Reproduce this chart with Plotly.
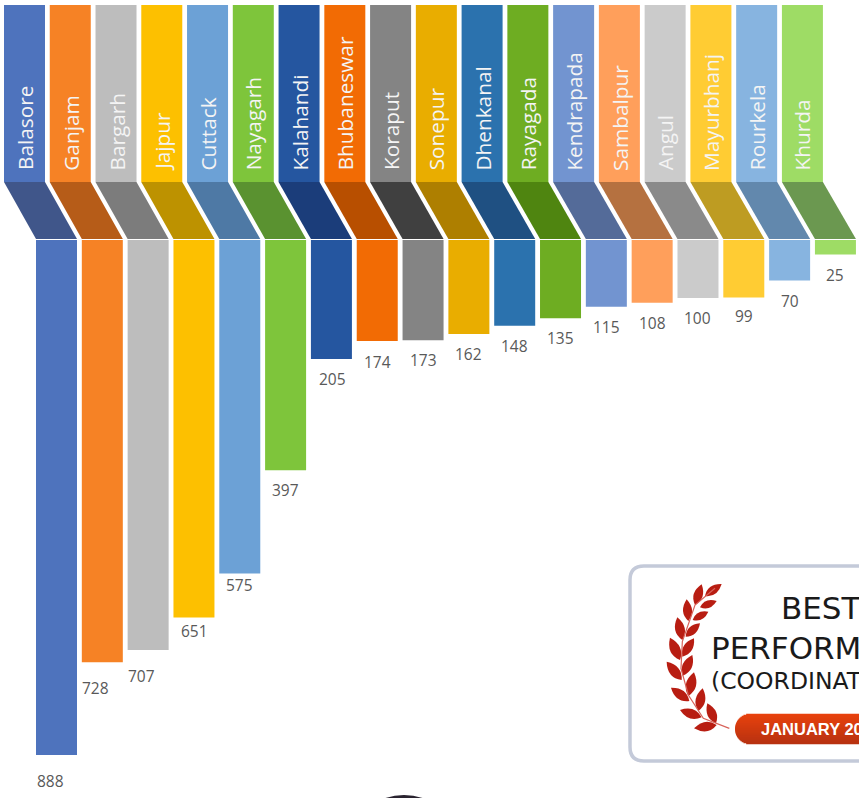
import math
import plotly.graph_objects as go

# ---- data ----
districts = ["Balasore", "Ganjam", "Bargarh", "Jajpur", "Cuttack", "Nayagarh", "Kalahandi",
             "Bhubaneswar", "Koraput", "Sonepur", "Dhenkanal", "Rayagada", "Kendrapada",
             "Sambalpur", "Angul", "Mayurbhanj", "Rourkela", "Khurda"]
values = [888, 728, 707, 651, 575, 397, 205, 174, 173, 162, 148, 135, 115, 108, 100, 99, 70, 25]

# ---- styles ----
bar_colors = ["#4E73BD", "#F68225", "#BDBDBD", "#FDC000", "#6CA1D6", "#7EC53B", "#2556A0", "#F26B04", "#848484",
              "#E9AD00", "#2B72AE", "#6EAD22", "#7294D0", "#FF9F5B", "#CBCBCB", "#FFCC33", "#87B4E0", "#9EDC65"]
band_colors = ["#40568A", "#B65C18", "#7C7C7C", "#BD9200", "#4E79A5", "#5A9230", "#1B3D7A", "#B84F00", "#404040",
               "#AE7F00", "#1F5082", "#4F8510", "#546B99", "#B57140", "#8A8A8A", "#BE9C22", "#6288AD", "#6B9850"]
label_gap = [26, 26, 26, 13, 12, 20, 20, 21, 20, 20, 20, 20, 20, 20, 20, 19, 20, 20]
label_dx = [-6, -7, -7, 1, 0, 0, 1, 0, 0, 0, 0, 0, 0, 0, 0, 0, 0, 0]

W, H = 859, 798
STEP = 45.82
HEAD_STEP = 45.76 / STEP
X0 = 56.5
Y0 = 240.0
SCALE = 515 / 888
BAR_W = 41 / STEP
HEAD_SHIFT = -32 / STEP
HEAD_TOP = (5 - Y0) / SCALE
HEAD_BOTTOM = (182 - Y0) / SCALE
BAND_BOTTOM = (239 - Y0) / SCALE
LABEL_Y = (172.5 - Y0) / SCALE

idx = list(range(len(districts)))
head_x = [i * HEAD_STEP + HEAD_SHIFT for i in idx]
fig = go.Figure()
fig.add_trace(go.Bar(x=idx, y=values, base=0, width=BAR_W, marker=dict(color=bar_colors, line_width=0),
                     hoverinfo="skip", showlegend=False))
fig.add_trace(go.Bar(x=head_x, y=[HEAD_BOTTOM - HEAD_TOP] * len(idx), base=HEAD_TOP,
                     width=BAR_W, marker=dict(color=bar_colors, line_width=0), hoverinfo="skip", showlegend=False))

shapes = []
ann = []
for i, name in enumerate(districts):
    l, r = i - BAR_W / 2, i + BAR_W / 2
    hl, hr = head_x[i] - BAR_W / 2, head_x[i] + BAR_W / 2
    shapes.append(dict(type="path", xref="x", yref="y", layer="above", fillcolor=band_colors[i], line_width=0,
                       path=f"M{hl},{HEAD_BOTTOM} L{hr},{HEAD_BOTTOM} "
                            f"L{r},{BAND_BOTTOM} L{l},{BAND_BOTTOM} Z"))
    ann.append(dict(x=head_x[i], y=LABEL_Y, xref="x", yref="y", text=name, showarrow=False, textangle=-90,
                    yanchor="bottom", xanchor="center", font=dict(family="Open Sans", size=20.8, color="#F4F4F4")))
    ann.append(dict(x=i, y=values[i], xref="x", yref="y", text=str(values[i]), showarrow=False,
                    yanchor="middle", xanchor="center", yshift=-label_gap[i], xshift=label_dx[i],
                    font=dict(family="Open Sans", size=15.5, color="#595959")))


def px(x, y):
    return f"{x / W:.5f},{1 - y / H:.5f}"


def zx(x, y):
    return 620 + x / 3, 555 + y / 3


def paper_shape(path, **kw):
    shapes.append(dict(type="path", xref="paper", yref="paper", path=path, layer="above", **kw))


# badge frame
r = 14
bl, bt, br, bb = 630, 566, 880, 761
paper_shape(f"M{px(bl + r, bt)} L{px(br, bt)} L{px(br, bb)} L{px(bl + r, bb)} "
            f"Q{px(bl, bb)} {px(bl, bb - r)} L{px(bl, bt + r)} Q{px(bl, bt)} {px(bl + r, bt)} Z",
            fillcolor="#FFFFFF", line=dict(color="#C4CAD9", width=3.5))

# laurel
leaves = [((225, 150), (245, 88)), ((205, 198), (200, 133)), ((187, 255), (172, 187)), ((180, 315), (150, 248)),
          ((185, 375), (140, 320)), ((208, 438), (153, 398)), ((245, 487), (180, 465)), ((290, 510), (222, 520)),
          ((255, 123), (305, 87)), ((240, 157), (290, 138)), ((218, 195), (265, 170)), ((197, 245), (240, 205)),
          ((187, 305), (222, 250)), ((188, 362), (217, 300)), ((205, 423), (222, 352)), ((235, 468), (248, 400)),
          ((288, 505), (262, 445))]
for (bx, by), (tx, ty) in leaves:
    dx, dy = tx - bx, ty - by
    nx, ny = -dy * 0.42, dx * 0.42
    mx, my = bx + dx * 0.45, by + dy * 0.45
    p0 = zx(bx, by); p1 = zx(mx + nx, my + ny); p2 = zx(tx, ty); p3 = zx(mx - nx, my - ny)
    paper_shape(f"M{px(*p0)} Q{px(*p1)} {px(*p2)} Q{px(*p3)} {px(*p0)} Z", fillcolor="#B81D12", line_width=0)
stem = [(328, 520), (250, 490), (205, 420), (183, 340), (187, 260), (225, 150), (285, 100)]
paper_shape("M" + " L".join(px(*zx(*p)) for p in stem), line=dict(color="#D8625A", width=1.2))

# ribbon with a vertical gradient
pl, pt, pb = 735, 714, 744
pr = (pb - pt) / 2
for k in range(pb - pt):
    yy = pt + k + 0.5
    f = k / (pb - pt - 1)
    c = (round(232 - 48 * f), round(66 - 16 * f), round(14 + 2 * f))
    xs = pl + pr - math.sqrt(max(pr ** 2 - (yy - pt - pr) ** 2, 0))
    paper_shape(f"M{px(xs, yy)} L{px(880, yy)}", line=dict(color=f"rgb{c}", width=1.3))

# head at the bottom edge
paper_shape(f"M{px(380, 800)} Q{px(404, 790)} {px(428, 800)} Z", fillcolor="#2A2430", line_width=0)


def badge_text(text, x, y, size, family="DejaVu Sans", color="#1A1A1A", bold=False):
    ann.append(dict(xref="paper", yref="paper", x=x / W, y=1 - y / H, text=f"<b>{text}</b>" if bold else text,
                    showarrow=False, xanchor="left", yanchor="middle", borderpad=0,
                    font=dict(family=family, size=size, color=color)))


badge_text("BEST", 780, 608, 31)
badge_text("PERFORM", 710, 648, 31)
badge_text("(COORDINAT", 710, 681, 23.5)
badge_text("JANUARY 20", 760, 729, 16.5, family="Liberation Sans", color="#FFFFFF", bold=True)

fig.update_layout(
    width=W, height=H, margin=dict(l=0, r=0, t=0, b=0, pad=0),
    paper_bgcolor="#FFFFFF", plot_bgcolor="#FFFFFF", showlegend=False, barmode="overlay",
    xaxis=dict(range=[-X0 / STEP, (W - X0) / STEP], visible=False),
    yaxis=dict(range=[(H - Y0) / SCALE, -Y0 / SCALE], visible=False),
    shapes=shapes, annotations=ann,
)
fig.write_html("out.html", config={"displayModeBar": False},
               post_script="document.body.style.margin='0';document.documentElement.style.overflow='hidden';")
